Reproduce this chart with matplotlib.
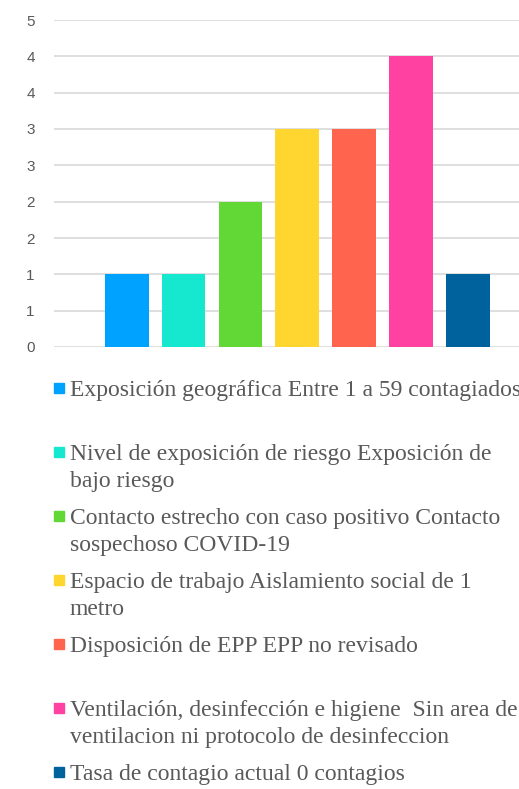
import matplotlib.pyplot as plt
from matplotlib.patches import Rectangle

# data
categorias = [
    "Exposición geográfica Entre 1 a 59 contagiados",
    "Nivel de exposición de riesgo Exposición de\nbajo riesgo",
    "Contacto estrecho con caso positivo Contacto\nsospechoso COVID-19",
    "Espacio de trabajo Aislamiento social de 1\nmetro",
    "Disposición de EPP EPP no revisado",
    "Ventilación, desinfección e higiene  Sin area de\nventilacion ni protocolo de desinfeccion",
    "Tasa de contagio actual 0 contagios",
]
valores = [1, 1, 2, 3, 3, 4, 1]
colores = ["#00a2ff", "#16e7cf", "#61d836", "#ffd52f", "#ff644e", "#ff42a1", "#00629c"]
ticks = [0, 0.5, 1, 1.5, 2, 2.5, 3, 3.5, 4, 4.5]
tick_labels = ["0", "1", "1", "2", "2", "3", "3", "4", "4", "5"]

fig = plt.figure(figsize=(5.19, 7.89), dpi=100)
ax = fig.add_axes([54 / 519, (789 - 347) / 789, 1 - 54 / 519, 327 / 789])

x = list(range(len(valores)))
ax.bar(x, valores, width=0.77, color=colores, zorder=3)

ax.set_ylim(0, 4.5)
ax.set_xlim(-1.28, 6.9)
ax.set_yticks(ticks)
ax.set_yticklabels(tick_labels)
ax.set_xticks([])
ax.yaxis.grid(True, color="#d9d9d9", linewidth=1.2, zorder=0)
ax.set_axisbelow(True)
for s in ax.spines.values():
    s.set_visible(False)
ax.tick_params(axis="y", length=0, pad=17, labelsize=11, labelcolor="#595959")
for t in ax.get_yticklabels():
    t.set_fontfamily("Liberation Sans")
    t.set_horizontalalignment("center")

# legend, drawn by hand to keep Excel's even slots
y0 = 396
paso = 64
for i, (lab, col) in enumerate(zip(categorias, colores)):
    yb = y0 + i * paso
    fig.patches.append(Rectangle((54 / 519, 1 - (yb - 3) / 789), 10 / 519, 10 / 789,
                                 transform=fig.transFigure, color=col))
    for k, linea in enumerate(lab.split("\n")):
        fig.text(70 / 519, 1 - (yb + 27 * k) / 789, linea, fontsize=17,
                 family="Liberation Serif", color="#595959", va="baseline", ha="left")

fig.savefig("out.png", dpi=100)
